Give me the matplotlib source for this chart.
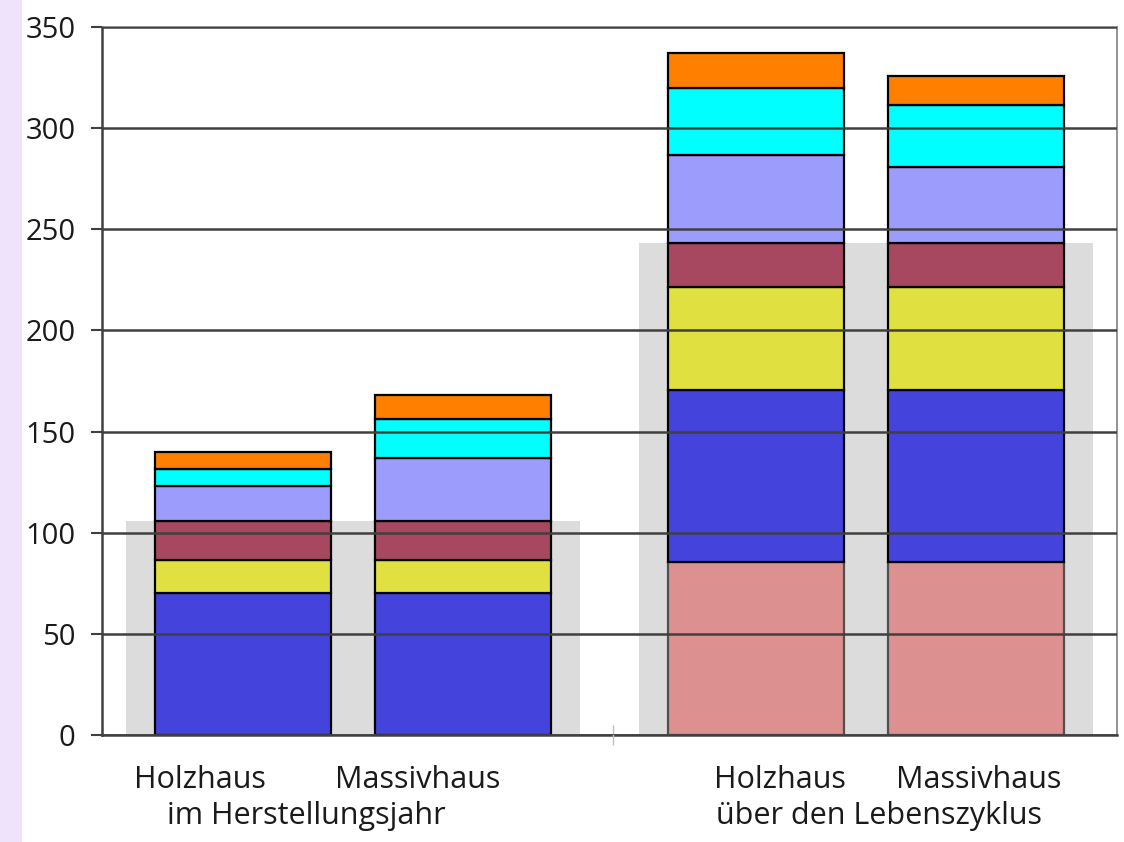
import numpy as np
import matplotlib.pyplot as plt
from matplotlib.patches import Rectangle

plt.rcParams['font.family'] = ['Open Sans', 'DejaVu Sans']

# bars: Holzhaus / Massivhaus, im Herstellungsjahr / ueber den Lebenszyklus
bar_names = ['Holzhaus', 'Massivhaus', 'Holzhaus', 'Massivhaus']
group_names = ['im Herstellungsjahr', 'über den Lebenszyklus']

# stacked segments, bottom to top
pink = [0, 0, 85.5, 85.5]
blue = [70, 70, 85, 85]
yellow = [16.5, 16.5, 51, 51]
maroon = [19.5, 19.5, 21.5, 21.5]
lavender = [17, 31, 43.5, 38]
cyan = [8.5, 19, 33.5, 30.5]
orange = [8.5, 12, 17, 14.5]

# grey base blocks behind each group
base = [106, 243]

segments = [pink, blue, yellow, maroon, lavender, cyan, orange]
colors = ['#dc9090', '#4444dd', '#e0e040', '#a84860', '#9c9cfc', '#00ffff', '#ff8000']
y_ticks = [0, 50, 100, 150, 200, 250, 300, 350]

fig = plt.figure(figsize=(11.24, 8.42), dpi=100)
fig.patches.append(Rectangle((0, 0), 22 / 1124, 1, transform=fig.transFigure,
                             facecolor='#efe3fb', edgecolor='none', zorder=0))
ax = fig.add_axes([102 / 1124, 107 / 842, 1015 / 1124, 708 / 842])

xs = np.array([0, 1, 2.33, 3.33])
gx = [0.5, 2.83]
ax.bar(gx, base, width=2.06, color='#dcdcdc', zorder=0.5)

bottom = np.zeros(4)
for vals, c in zip(segments, colors):
    vals = np.array(vals, dtype=float)
    ec = '#505050' if c == '#dc9090' else 'black'
    mask = vals > 0
    ax.bar(xs[mask], vals[mask], bottom=bottom[mask], width=0.8, color=c,
           edgecolor=ec, linewidth=1.6, zorder=2)
    bottom += vals

ax.set_xlim(-0.64, 3.97)
ax.set_ylim(0, 350)
ax.set_yticks(y_ticks)
ax.tick_params(axis='y', labelsize=21, length=8, width=1.5, color='#404040', pad=11)
ax.set_xticks([1.68])
ax.set_xticklabels([''])
ax.tick_params(axis='x', direction='inout', length=14, width=1, color='#c0c0c0')
ax.grid(axis='y', color='#404040', linewidth=1.8, zorder=1)
ax.set_axisbelow(False)
for s in ['left', 'bottom']:
    ax.spines[s].set_color('#404040')
    ax.spines[s].set_linewidth(1.8)
for s in ['right', 'top']:
    ax.spines[s].set_color('#808080')
    ax.spines[s].set_linewidth(1.2)
for lab in ax.get_yticklabels():
    lab.set_color('#1a1a1a')

# label positions in data x (shifted a bit from the bar centres as in the original)
label_x = [-0.195, 0.795, 2.44, 3.34]
group_x = [0.286, 2.89]
trans = ax.get_xaxis_transform()
for x, name in zip(label_x, bar_names):
    ax.text(x, -0.064, name, transform=trans, ha='center', va='center',
            fontsize=22, color='#1a1a1a')
for x, name in zip(group_x, group_names):
    ax.text(x, -0.114, name, transform=trans, ha='center', va='center',
            fontsize=22, color='#1a1a1a')

fig.savefig('out.png', dpi=100)
